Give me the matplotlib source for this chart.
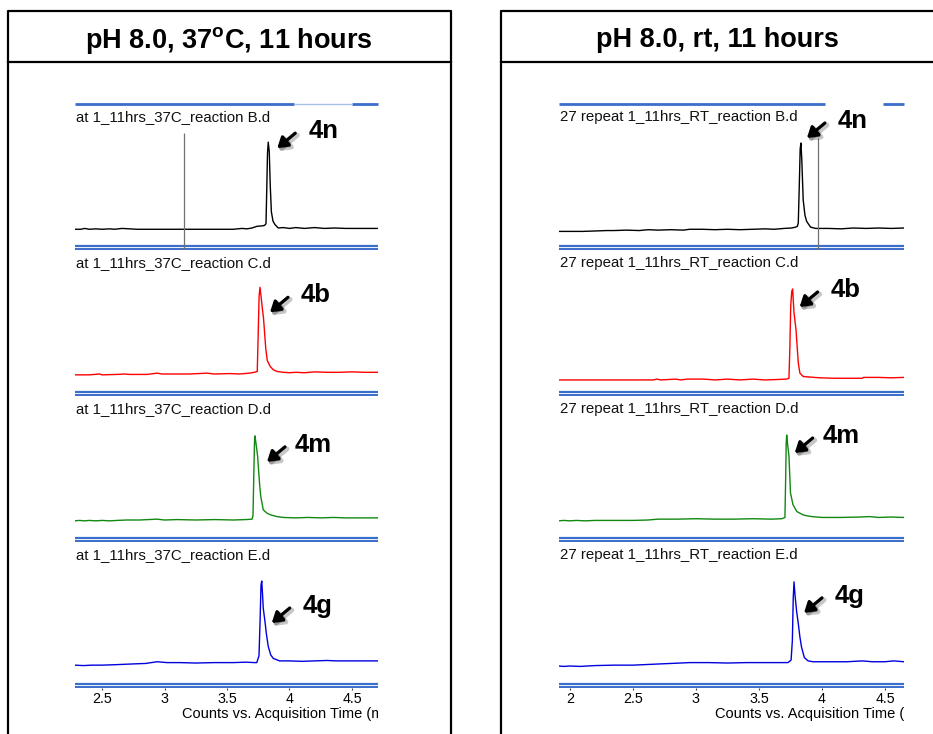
import matplotlib
matplotlib.use('Agg')
import matplotlib.pyplot as plt
import matplotlib.patheffects as pe
from matplotlib.lines import Line2D
from matplotlib.transforms import offset_copy
from matplotlib.ticker import FuncFormatter

plt.rcParams['font.family'] = ['Liberation Sans', 'DejaVu Sans']
plt.rcParams['mathtext.fontset'] = 'custom'
plt.rcParams['mathtext.bf'] = 'Liberation Sans:bold'
plt.rcParams['mathtext.rm'] = 'Liberation Sans'

W, H = 933, 734

# ---- data (time in min, relative response) ----
titles = [r'pH 8.0, 37$^{\mathbf{o}}$C, 11 hours', 'pH 8.0, rt, 11 hours']
compounds = ['4n', '4b', '4m', '4g']
trace_colors = ['black', '#ff0000', '#118811', '#0000dd']
left_files = ['at 1_11hrs_37C_reaction B.d', 'at 1_11hrs_37C_reaction C.d',
              'at 1_11hrs_37C_reaction D.d', 'at 1_11hrs_37C_reaction E.d']
right_files = ['27 repeat 1_11hrs_RT_reaction B.d', '27 repeat 1_11hrs_RT_reaction C.d',
               '27 repeat 1_11hrs_RT_reaction D.d', '27 repeat 1_11hrs_RT_reaction E.d']
left_ticks = [2.5, 3, 3.5, 4, 4.5]
right_ticks = [2, 2.5, 3, 3.5, 4, 4.5]
cursor_times = [3.156, 3.968]   # grey marker line in the first trace
cursor_tops = [1.12, 1.06]

# 37C run
l_black_t = [2.28, 2.33, 2.36, 2.40, 2.45, 2.50, 2.56, 2.60, 2.66, 2.72, 2.78, 2.88, 3.00, 3.15, 3.30,
             3.45, 3.55, 3.62, 3.66, 3.70, 3.74, 3.78, 3.80, 3.812, 3.818, 3.824, 3.830, 3.838, 3.846,
             3.855, 3.868, 3.884, 3.91, 3.95, 4.00, 4.05, 4.12, 4.20, 4.28, 4.36, 4.45, 4.55, 4.71]
l_black = [-0.015, -0.015, -0.005, -0.015, -0.01, -0.015, -0.01, -0.015, -0.005, -0.01, -0.015, -0.015,
           -0.015, -0.015, -0.015, -0.015, -0.015, -0.005, -0.01, 0.0, 0.02, 0.025, 0.03, 0.05, 0.45,
           0.88, 1.01, 0.9, 0.5, 0.19, 0.08, 0.04, 0.0, 0.005, -0.005, 0.005, -0.005, 0.005, -0.005,
           0.0, -0.005, -0.005, -0.005]
l_red_t = [2.28, 2.40, 2.48, 2.50, 2.62, 2.68, 2.72, 2.86, 2.94, 2.98, 3.10, 3.20, 3.34, 3.40, 3.52,
           3.60, 3.68, 3.72, 3.742, 3.750, 3.757, 3.764, 3.772, 3.782, 3.792, 3.800, 3.810, 3.822,
           3.845, 3.870, 3.90, 3.95, 4.00, 4.05, 4.12, 4.20, 4.30, 4.40, 4.50, 4.60, 4.71]
l_red = [-0.01, -0.01, 0.0, -0.01, -0.005, 0.0, -0.005, -0.005, 0.01, 0.0, 0.0, 0.0, 0.01, 0.0, 0.005,
         0.0, 0.01, 0.02, 0.03, 0.5, 0.92, 1.02, 0.92, 0.78, 0.66, 0.5, 0.3, 0.16, 0.09, 0.05, 0.03,
         0.02, 0.015, 0.02, 0.015, 0.025, 0.02, 0.02, 0.025, 0.02, 0.02]
l_green_t = [2.28, 2.32, 2.36, 2.40, 2.45, 2.50, 2.56, 2.62, 2.70, 2.80, 2.94, 3.00, 3.10, 3.25, 3.40,
             3.55, 3.65, 3.70, 3.708, 3.714, 3.720, 3.724, 3.732, 3.745, 3.752, 3.762, 3.770, 3.79,
             3.82, 3.85, 3.90, 3.95, 4.05, 4.15, 4.25, 4.35, 4.45, 4.55, 4.71]
l_green = [-0.01, -0.005, -0.01, -0.005, -0.01, -0.005, -0.01, -0.005, 0.0, 0.0, 0.01, 0.0, 0.005, 0.0,
           0.005, 0.0, 0.005, 0.01, 0.05, 0.5, 0.92, 0.99, 0.9, 0.75, 0.6, 0.4, 0.28, 0.12, 0.08,
           0.06, 0.04, 0.03, 0.025, 0.03, 0.025, 0.03, 0.025, 0.025, 0.025]
l_blue_t = [2.28, 2.35, 2.42, 2.50, 2.60, 2.68, 2.76, 2.85, 2.94, 3.02, 3.12, 3.25, 3.40, 3.55, 3.65,
            3.72, 3.738, 3.756, 3.764, 3.772, 3.778, 3.784, 3.790, 3.804, 3.815, 3.830, 3.850,
            3.870, 3.92, 4.00, 4.10, 4.20, 4.30, 4.38, 4.45, 4.55, 4.71]
l_blue = [0.01, 0.005, 0.01, 0.01, 0.015, 0.02, 0.025, 0.03, 0.05, 0.04, 0.04, 0.035, 0.04, 0.04, 0.045,
          0.04, 0.04, 0.12, 0.5, 0.95, 1.0, 0.85, 0.68, 0.52, 0.38, 0.23, 0.13, 0.09, 0.06, 0.06,
          0.055, 0.06, 0.065, 0.06, 0.06, 0.06, 0.06]

# rt run
r_black_t = [1.91, 2.00, 2.10, 2.20, 2.29, 2.35, 2.45, 2.55, 2.62, 2.70, 2.80, 2.90, 2.95, 3.05, 3.15,
             3.25, 3.35, 3.45, 3.55, 3.62, 3.70, 3.76, 3.79, 3.805, 3.812, 3.820, 3.827, 3.833, 3.840,
             3.851, 3.865, 3.878, 3.891, 3.91, 3.95, 4.05, 4.15, 4.25, 4.35, 4.45, 4.55, 4.65]
r_black = [-0.04, -0.04, -0.04, -0.035, -0.03, -0.03, -0.025, -0.03, -0.02, -0.025, -0.02, -0.025,
           -0.015, -0.015, -0.02, -0.015, -0.02, -0.015, -0.01, -0.015, -0.005, 0.0, 0.01, 0.02, 0.06,
           0.5, 0.93, 1.0, 0.8, 0.33, 0.15, 0.08, 0.05, 0.01, -0.005, -0.005, -0.01, 0.0, -0.005, 0.0,
           -0.005, 0.0]
r_red_t = [1.91, 2.20, 2.50, 2.66, 2.69, 2.72, 2.84, 2.88, 2.93, 3.06, 3.15, 3.25, 3.35, 3.45, 3.55,
           3.64, 3.72, 3.738, 3.745, 3.752, 3.760, 3.767, 3.778, 3.794, 3.812, 3.825, 3.852, 3.984,
           4.10, 4.20, 4.32, 4.33, 4.45, 4.55, 4.65]
r_red = [-0.07, -0.07, -0.07, -0.07, -0.06, -0.07, -0.06, -0.07, -0.06, -0.06, -0.07, -0.06, -0.07,
         -0.06, -0.07, -0.065, -0.06, -0.05, 0.3, 0.8, 0.97, 1.0, 0.72, 0.52, 0.13, 0.01, -0.03,
         -0.045, -0.05, -0.05, -0.05, -0.04, -0.04, -0.045, -0.04]
r_green_t = [1.91, 1.95, 2.00, 2.05, 2.12, 2.20, 2.35, 2.50, 2.62, 2.70, 2.85, 3.00, 3.15, 3.30, 3.45,
             3.60, 3.68, 3.706, 3.712, 3.716, 3.720, 3.728, 3.738, 3.745, 3.750, 3.770, 3.800, 3.850,
             3.880, 3.92, 4.00, 4.15, 4.30, 4.38, 4.45, 4.55, 4.65]
r_green = [-0.01, -0.005, -0.01, -0.005, -0.01, -0.005, -0.005, -0.005, 0.0, 0.01, 0.01, 0.015, 0.01,
           0.01, 0.015, 0.01, 0.015, 0.03, 0.5, 0.9, 1.0, 0.88, 0.75, 0.5, 0.32, 0.18, 0.1, 0.06,
           0.05, 0.04, 0.03, 0.03, 0.035, 0.04, 0.03, 0.035, 0.03]
r_blue_t = [1.91, 1.95, 2.00, 2.08, 2.20, 2.35, 2.50, 2.65, 2.80, 2.95, 3.10, 3.25, 3.40, 3.55, 3.65,
            3.73, 3.755, 3.765, 3.772, 3.778, 3.787, 3.799, 3.812, 3.825, 3.838, 3.860, 3.890, 3.93,
            4.00, 4.10, 4.20, 4.32, 4.40, 4.50, 4.57, 4.65]
r_blue = [0.0, -0.005, 0.0, -0.005, 0.005, 0.01, 0.01, 0.02, 0.03, 0.04, 0.04, 0.035, 0.04, 0.04, 0.04,
          0.04, 0.07, 0.3, 0.8, 0.99, 0.82, 0.64, 0.5, 0.34, 0.22, 0.1, 0.06, 0.05, 0.05, 0.05,
          0.05, 0.06, 0.05, 0.05, 0.06, 0.05]

left_traces = [(l_black_t, l_black), (l_red_t, l_red), (l_green_t, l_green), (l_blue_t, l_blue)]
right_traces = [(r_black_t, r_black), (r_red_t, r_red), (r_green_t, r_green), (r_blue_t, r_blue)]

# ---- layout (pixels) ----
strip_tops = [104, 250, 396, 542]
STRIP_H = 146
BLUE = '#3a6ecb'
LIGHT_BLUE = '#a9c0e9'

panels = [
    dict(frame=(8, 451), title_x=229, ax_x=75, ax_w=303, xlim=(2.284, 4.708), ticks=left_ticks,
         files=left_files, traces=left_traces, label_x=182,
         top_gap=(0.723, 0.914), gap_line=True,
         heads=[(9, -6), (10, -25), (12, -26), (10, -42)]),
    dict(frame=(501, 944), title_x=717, ax_x=559, ax_w=345, xlim=(1.913, 4.651), ticks=right_ticks,
         files=right_files, traces=right_traces, label_x=715,
         top_gap=(0.771, 0.939), gap_line=False,
         heads=[(6, 5), (7, -18), (8, -18), (10, -31)]),
]


def box(x, y, w, h):
    return [x / W, 1 - (y + h) / H, w / W, h / H]


def fig_line(fig, xs, ys, **kw):
    fig.add_artist(Line2D([x / W for x in xs], [1 - y / H for y in ys],
                          transform=fig.transFigure, **kw))


def axes_hline(ax, y, x0=0.0, x1=1.0, **kw):
    ax.plot([x0, x1], [y, y], transform=ax.transAxes, clip_on=False,
            solid_capstyle='butt', **kw)


fig = plt.figure(figsize=(W / 100, H / 100), dpi=100, facecolor='white')
fmt = FuncFormatter(lambda v, p: '%g' % v)
ylim = (-22 / 85, 124 / 85)

for pi_, p in enumerate(panels):
    fx0, fx1 = p['frame']
    # panel frame and header
    fig_line(fig, [fx0, fx0, fx1, fx1], [H + 5, 11, 11, H + 5], color='black', lw=1.6)
    fig_line(fig, [fx0, fx1], [62, 62], color='black', lw=1.6)
    fig.text(p['title_x'] / W, 1 - 40 / H, titles[pi_],
             fontsize=19.5, fontweight='bold', ha='center', va='center')

    for k, y0 in enumerate(strip_tops):
        ax = fig.add_axes(box(p['ax_x'], y0, p['ax_w'], STRIP_H))
        t, v = p['traces'][k]
        ax.plot(t, v, color=trace_colors[k], lw=1.0)
        ax.set_xlim(*p['xlim'])
        ax.set_ylim(*ylim)
        for s in ax.spines.values():
            s.set_visible(False)
        ax.set_yticks([])
        ax.patch.set_alpha(0)

        # double blue separator at the bottom of each strip
        axes_hline(ax, 4.5 / STRIP_H, color=BLUE, lw=1.6)
        axes_hline(ax, 1.0 / STRIP_H, color=BLUE, lw=1.4)
        if k == 0:
            g0, g1 = p['top_gap']
            axes_hline(ax, 1.0, 0.0, g0, color=BLUE, lw=2.0)
            axes_hline(ax, 1.0, g1, 1.0, color=BLUE, lw=2.0)
            if p['gap_line']:
                axes_hline(ax, 1.0, g0, g1, color=LIGHT_BLUE, lw=1.0)
            ax.vlines(cursor_times[pi_], ylim[0], cursor_tops[pi_], color='#707070', lw=0.9)

        ax.text(0.003, 1 - 13 / STRIP_H, p['files'][k], transform=ax.transAxes,
                fontsize=10.8, ha='left', va='center', color='#111111')

        # compound label with arrow pointing at the peak
        i_max = v.index(max(v))
        tp, yp = t[i_max], v[i_max]
        dx, dy = p['heads'][k]
        head = offset_copy(ax.transData, fig=fig, x=dx, y=dy, units='dots')
        arr = ax.annotate('', xy=(tp, yp), xycoords=head, xytext=(18, 15),
                          textcoords='offset pixels',
                          arrowprops=dict(arrowstyle='-|>,head_length=0.5,head_width=0.32',
                                          color='black', lw=2.3, mutation_scale=12,
                                          shrinkA=0, shrinkB=0))
        arr.arrow_patch.set_path_effects([
            pe.SimpleLineShadow(offset=(1.5, -1.5), alpha=0.22, linewidth=3.5),
            pe.SimplePatchShadow(offset=(1.5, -1.5), alpha=0.22),
            pe.Normal()])
        ax.annotate(compounds[k], xy=(tp, yp), xycoords=head, xytext=(46, 10),
                    textcoords='offset pixels', ha='center', va='baseline',
                    fontsize=18.5, fontweight='bold')

        if k == 3:
            ax.set_xticks(p['ticks'])
            ax.xaxis.set_major_formatter(fmt)
            ax.tick_params(axis='x', length=1.5, width=0.8, color='#444444', pad=1.2,
                           labelsize=10.3, direction='out')
            # axis title, cut off at the plot's right edge as in the export
            lab_ax = fig.add_axes(box(p['ax_x'], 704, p['ax_w'], 20))
            lab_ax.set_axis_off()
            lab_ax.text((p['label_x'] - p['ax_x']) / p['ax_w'], 0.5,
                        'Counts vs. Acquisition Time (min)', transform=lab_ax.transAxes,
                        fontsize=10.5, ha='left', va='center', clip_on=True)
        else:
            ax.set_xticks([])

fig.savefig('out.png', dpi=100, facecolor='white')
